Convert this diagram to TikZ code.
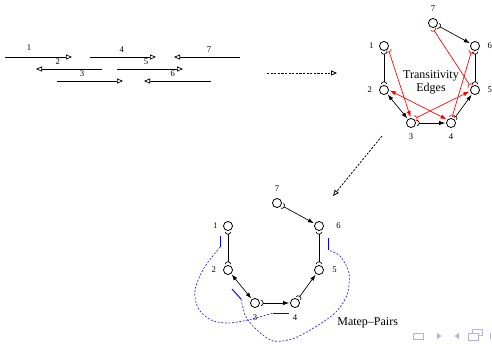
\documentclass[tikz,border=0pt]{standalone}
\usepackage{fontspec}
\setmainfont{Liberation Serif}
\usetikzlibrary{arrows.meta}

\definecolor{navblue}{RGB}{178,178,226}

\tikzset{
  cradle/.tip={Arc Barb[reversed,length=2pt,width=4.6pt]},
  head/.tip={Latex[length=4.5pt,width=3.2pt]},
  hollow/.tip={Triangle[open,length=4.5pt,width=3.8pt]},
  ev/.style={circle,draw,minimum size=6.8pt,inner sep=0pt,outer sep=1pt,line width=0.6pt},
  num/.style={font=\fontsize{6.5}{7}\selectfont},
  caption/.style={font=\fontsize{9}{10}\selectfont,inner sep=0pt},
  itv/.style={line width=0.5pt,-{hollow}},
  follow/.style={line width=0.6pt,dash pattern=on 1.6pt off 1.1pt,-{hollow}},
  pairbar/.style={blue,line width=0.7pt},
  pairlink/.style={blue!85!white,line width=0.5pt,dash pattern=on 1.5pt off 1.2pt}
}

\begin{document}
\begin{tikzpicture}[x=0.75pt, y=-0.75pt, line width=0.5pt]
  \useasboundingbox (0,0) rectangle (492,343);

  % Intervals
  \coordinate (s1) at (5,57);    \coordinate (e1) at (72,57);
  \coordinate (s4) at (90,57);   \coordinate (e4) at (156,57);
  \coordinate (s7) at (240,57);  \coordinate (e7) at (174,57);
  \coordinate (s2) at (102,69);  \coordinate (e2) at (36,69);
  \coordinate (s5) at (117,69);  \coordinate (e5) at (183,69);
  \coordinate (s3) at (57,81);   \coordinate (e3) at (123,81);
  \coordinate (s6) at (211,81);  \coordinate (e6) at (144,81);

  \draw[itv] (s1) -- node[num, above=1pt, pos=0.36] {1} (e1);
  \draw[itv] (s4) -- node[num, above=0pt, pos=0.48] {4} (e4);
  \draw[itv] (s7) -- node[num, above=0pt, pos=0.47] {7} (e7);
  \draw[itv] (s2) -- node[num, above=0pt, pos=0.67] {2} (e2);
  \draw[itv] (s5) -- node[num, above=0pt, pos=0.44] {5} (e5);
  \draw[itv] (s3) -- node[num, above=0pt, pos=0.38] {3} (e3);
  \draw[itv] (s6) -- node[num, above=0pt, pos=0.57] {6} (e6);

  % Dashed arrows
  \coordinate (f1s) at (267,73);  \coordinate (f1e) at (337,73);
  \coordinate (f2s) at (382,136); \coordinate (f2e) at (333,196);
  \draw[follow] (f1s) -- (f1e);
  \draw[follow] (f2s) -- (f2e);

  % Graph with transitivity edges
  \node[ev, label={[num]left:1}] (t1) at (384,46) {};
  \node[ev, label={[num, label distance=1pt]left:2}] (t2) at (384,90) {};
  \node[ev, label={[num]below:3}] (t3) at (411,123) {};
  \node[ev, label={[num]below:4}] (t4) at (451,123) {};
  \node[ev, label={[num, label distance=1.5pt]right:5}] (t5) at (475,90) {};
  \node[ev, label={[num, label distance=1.5pt]right:6}] (t6) at (475,46) {};
  \node[ev, label={[num, label distance=1pt]above:7}] (t7) at (433,23) {};

  \draw[{cradle}-{cradle}] (t1) -- (t2);
  \draw[{head}-{head}] (t2) -- (t3);
  \draw[{cradle}-{head}] (t3) -- (t4);
  \draw[{cradle}-{head}] (t4) -- (t5);
  \draw[{cradle}-{cradle}] (t5) -- (t6);
  \draw[{cradle}-{head}] (t7) -- (t6);

  \draw[red, {cradle}-{head}] (t1.-40) -- (t3.95);
  \draw[red, {head}-{head}] (t2.-5) -- (t4.140);
  \draw[red, {cradle}-{head}] (t3.50) -- (t5.195);
  \draw[red, {cradle}-{cradle}] (t6.-125) -- (t4.80);
  \draw[red, {cradle}-{cradle}] (t7.-90) -- (t5.140);

  \node[caption, align=center] (trans) at (431,82) {Transitivity\\Edges};

  % Graph with matep pairs
  \node[ev, label={[num]left:1}] (m1) at (228,226) {};
  \node[ev, label={[num, label distance=1pt]left:2}] (m2) at (228,270) {};
  \node[ev, label={[num, label distance=1pt]below:3}] (m3) at (255,303) {};
  \node[ev, label={[num, label distance=1pt]below:4}] (m4) at (295,303) {};
  \node[ev, label={[num, label distance=2pt]right:5}] (m5) at (319,270) {};
  \node[ev, label={[num, label distance=5pt]right:6}] (m6) at (319,226) {};
  \node[ev, label={[num, label distance=1pt]above:7}] (m7) at (277,203) {};

  \draw[{cradle}-{cradle}] (m1) -- (m2);
  \draw[{head}-{head}] (m2) -- (m3);
  \draw[{cradle}-{head}] (m3) -- (m4);
  \draw[{cradle}-{head}] (m4) -- (m5);
  \draw[{cradle}-{cradle}] (m5) -- (m6);
  \draw[{cradle}-{head}] (m7) -- (m6);

  \coordinate (p1a) at (220,236); \coordinate (p1b) at (220,247);
  \coordinate (p2a) at (273,313); \coordinate (p2b) at (289,313);
  \coordinate (p3a) at (232,289); \coordinate (p3b) at (241,299);
  \coordinate (p4a) at (328,238); \coordinate (p4b) at (328,250);

  \draw[pairbar] (p1a) -- (p1b);
  \draw[pairbar] (p2a) -- (p2b);
  \draw[pairbar] (p3a) -- (p3b);
  \draw[pairbar] (p4a) -- (p4b);

  \draw[pairlink] plot[smooth] coordinates {(p1b) (204,268) (195,290) (198,308)
    (211,320) (228,323) (248,320) (p2a)};
  \draw[pairlink] plot[smooth] coordinates {(p3b) (246,317) (258,331) (273,341)
    (292,339) (312,329) (335,313) (347,295) (349,273) (340,256) (p4b)};

  \node[caption, anchor=west] (matep) at (337,323) {Matep--Pairs};

  % Navigation symbols
  \draw[navblue, line width=0.7pt] (413,333) rectangle (423,339);
  \fill[navblue] (437,333) -- (441.5,336) -- (437,339) -- cycle;
  \fill[navblue] (459,333) -- (454.5,336) -- (459,339) -- cycle;
  \draw[navblue, line width=0.7pt, fill=white] (472,329) rectangle (482,335);
  \draw[navblue, line width=0.7pt, fill=white] (468,333) rectangle (478,340);
  \fill[navblue] (490,333) rectangle (491,339);
\end{tikzpicture}
\end{document}
